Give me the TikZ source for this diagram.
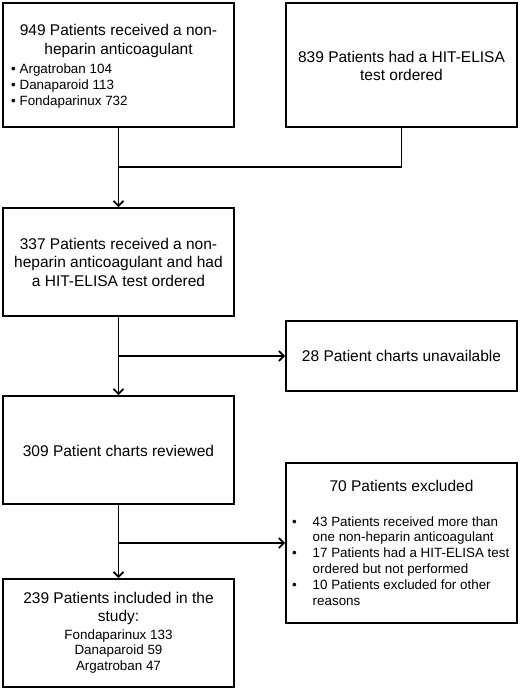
\documentclass[tikz,border=0pt]{standalone}
\usepackage{fontspec}
\setmainfont{Liberation Sans}
\usetikzlibrary{arrows.meta}
\begin{document}
\begin{tikzpicture}[x=1pt,y=-1pt,
 box/.style={draw, line width=1.8pt, inner sep=0pt, minimum width=231pt},
 big/.style={font=\fontsize{15.5}{18.5}\selectfont, align=center, inner sep=0pt},
 small/.style={font=\fontsize{13.4}{15.8}\selectfont, inner sep=0pt},
 arr/.style={line width=1.8pt, -{Straight Barb[length=5pt,width=10pt]}},
 ln/.style={line width=1.8pt}]
\useasboundingbox (0,0) rectangle (520,690);
\node[box, minimum height=124pt] (b1) at (118.5,65) {};
\node[box, minimum height=124pt] (b2) at (401.5,65) {};
\node[box, minimum height=108pt] (b3) at (118.5,262) {};
\node[box, minimum height=70pt] (b28) at (401.5,356) {};
\node[box, minimum height=108pt] (b4) at (118.5,450) {};
\node[box, minimum height=160pt] (b70) at (401.5,543) {};
\node[box, minimum height=108pt] (b5) at (118.5,633) {};
\node[big] (t1) at (118.5,41) {949 Patients received a non-\\heparin anticoagulant};
\node[small, align=left, anchor=west] (t1b) at (11,86) {\textbullet\ Argatroban 104\\\textbullet\ Danaparoid 113\\\textbullet\ Fondaparinux 732};
\node[big] (t2) at (401.5,66) {839 Patients had a HIT-ELISA\\test ordered};
\node[big] (t3) at (118.5,262) {337 Patients received a non-\\heparin anticoagulant and had\\a HIT-ELISA test ordered};
\node[big] (t28) at (401.5,356) {28 Patient charts unavailable};
\node[big] (t4) at (118.5,451) {309 Patient charts reviewed};
\node[big] (t70) at (401.5,486) {70 Patients excluded};
\node[small, anchor=west] (t70b) at (292,562.5) {\begin{tabular}{@{}l@{\hspace{15.8pt}}l@{}}\textbullet & 43 Patients received more than\\ & one non-heparin anticoagulant\\ \textbullet & 17 Patients had a HIT-ELISA test\\ & ordered but not performed\\ \textbullet & 10 Patients excluded for other\\ & reasons\end{tabular}};
\node[big] (t5) at (118.5,608.5) {239 Patients included in the\\study:};
\node[small, align=center] (t5b) at (118.5,651.5) {Fondaparinux 133\\Danaparoid 59\\Argatroban 47};
\coordinate (m1) at (118.5,167);
\coordinate (m2) at (118.5,356);
\coordinate (m3) at (118.5,543);
\draw[arr] (b1.south) -- (b3.north);
\draw[ln] (b2.south) |- (m1);
\draw[arr] (b3.south) -- (b4.north);
\draw[arr] (m2) -- (b28.west);
\draw[arr] (b4.south) -- (b5.north);
\draw[arr] (m3) -- (b70.west);
\end{tikzpicture}
\end{document}
